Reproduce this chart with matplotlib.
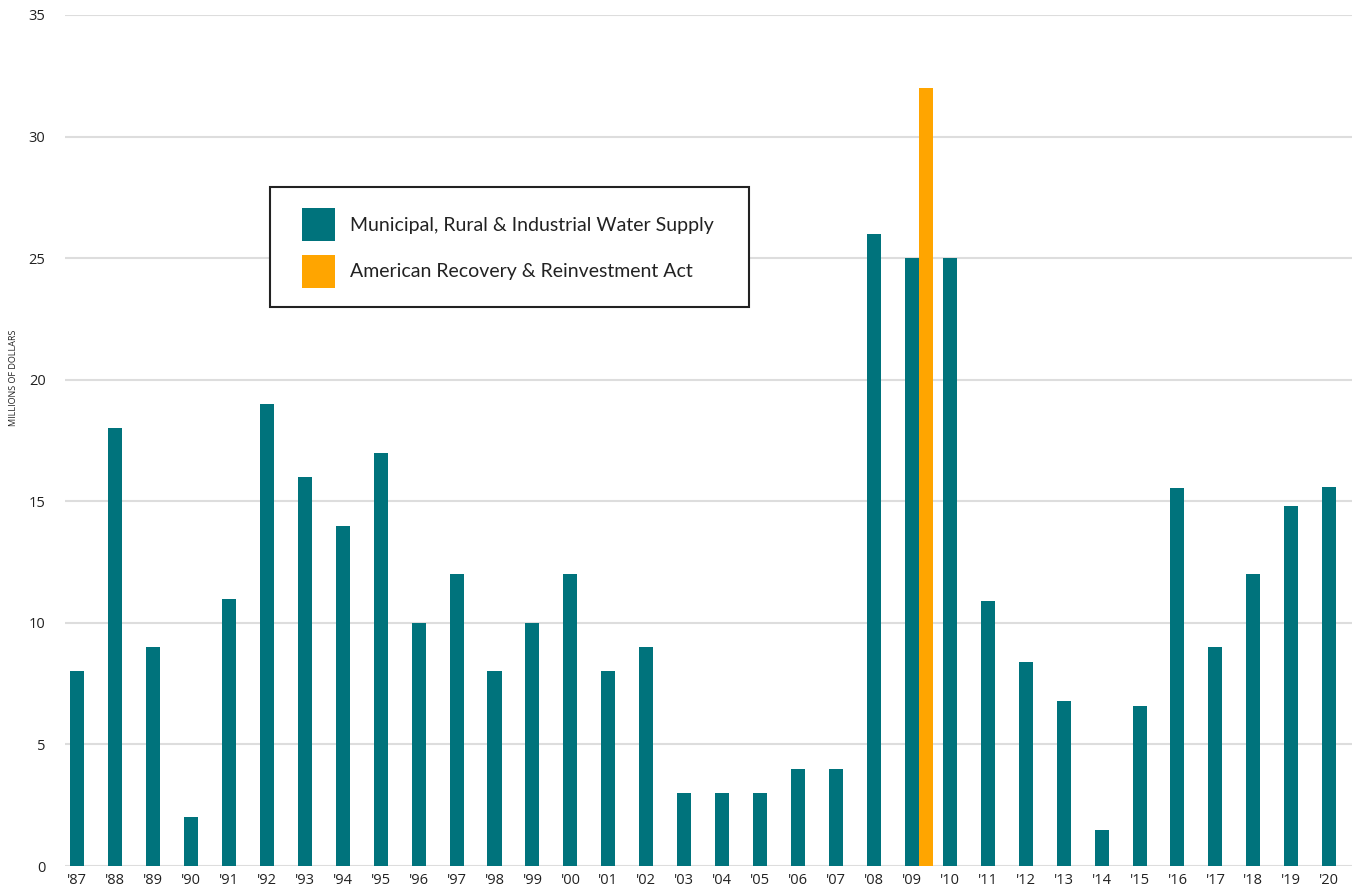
import matplotlib
matplotlib.use("Agg")
import matplotlib.pyplot as plt
from matplotlib.patches import Patch, Rectangle
import numpy as np

years = ["'87", "'88", "'89", "'90", "'91", "'92", "'93", "'94", "'95", "'96",
         "'97", "'98", "'99", "'00", "'01", "'02", "'03", "'04", "'05", "'06",
         "'07", "'08", "'09", "'10", "'11", "'12", "'13", "'14", "'15", "'16",
         "'17", "'18", "'19", "'20"]
mri_values = [8, 18, 9, 2, 11, 19, 16, 14, 17, 10,
              12, 8, 10, 12, 8, 9, 3, 3, 3, 4,
              4, 26, 25, 25, 10.9, 8.4, 6.8, 1.5, 6.6, 15.55,
              9, 12, 14.8, 15.6]
arra_year = "'09"
arra_value = 32

teal = "#00737C"
orange = "#FFA500"
plt.rcParams['font.family'] = ['Open Sans', 'DejaVu Sans']

fig = plt.figure(figsize=(13.59, 8.90), dpi=100)
W, H = 1359, 890
ax = fig.add_axes([65 / W, 1 - 866 / H, (1352 - 65) / W, (866 - 15) / H])

x = np.arange(len(years))
bw = 0.37
ax.bar(x, mri_values, width=bw, color=teal, zorder=3)
ai = years.index(arra_year)
ax.bar([x[ai] + bw], [arra_value], width=bw, color=orange, zorder=3)

ax.set_xlim(-0.32, len(years) - 1 + 0.6)
ax.set_ylim(0, 35)
ax.set_yticks(np.arange(0, 36, 5))
ax.set_xticks(x)
ax.set_xticklabels(years)
ax.grid(axis='y', color='#dddddd', linewidth=1.5, zorder=0)
for s in ['top', 'right', 'left', 'bottom']:
    ax.spines[s].set_visible(False)
ax.tick_params(axis='both', length=0, labelsize=10.5, colors='#222222')
ax.tick_params(axis='y', pad=14)
ax.tick_params(axis='x', pad=5)

fig.text(14 / W, 1 - 378 / H, "MILLIONS OF DOLLARS", rotation=90,
         ha='center', va='center', fontsize=6.5, color='#222222')

# legend frame
fig.patches.append(Rectangle((270 / W, 1 - 307 / H), (749 - 270) / W, (307 - 187) / H,
                             transform=fig.transFigure, facecolor='white',
                             edgecolor='#222222', linewidth=1.5, zorder=5))

fs = 14
px = fs * 100 / 72
hh = (33 / px - 0.245) / 0.65
handles = [Patch(facecolor=teal, edgecolor='none'),
           Patch(facecolor=orange, edgecolor='none')]
labels = ["Municipal, Rural & Industrial Water Supply",
          "American Recovery & Reinvestment Act"]
leg = fig.legend(handles, labels, loc='upper left',
                 bbox_to_anchor=(302 / W, 1 - 208 / H),
                 frameon=False, handlelength=33 / px,
                 handleheight=hh, handletextpad=15 / px, borderpad=0,
                 labelspacing=0.70, borderaxespad=0,
                 prop={'family': ['Lato', 'DejaVu Sans'], 'size': fs})
leg.set_zorder(6)
for t in leg.get_texts():
    t.set_color('#222222')

fig.savefig("out.png", dpi=100)
